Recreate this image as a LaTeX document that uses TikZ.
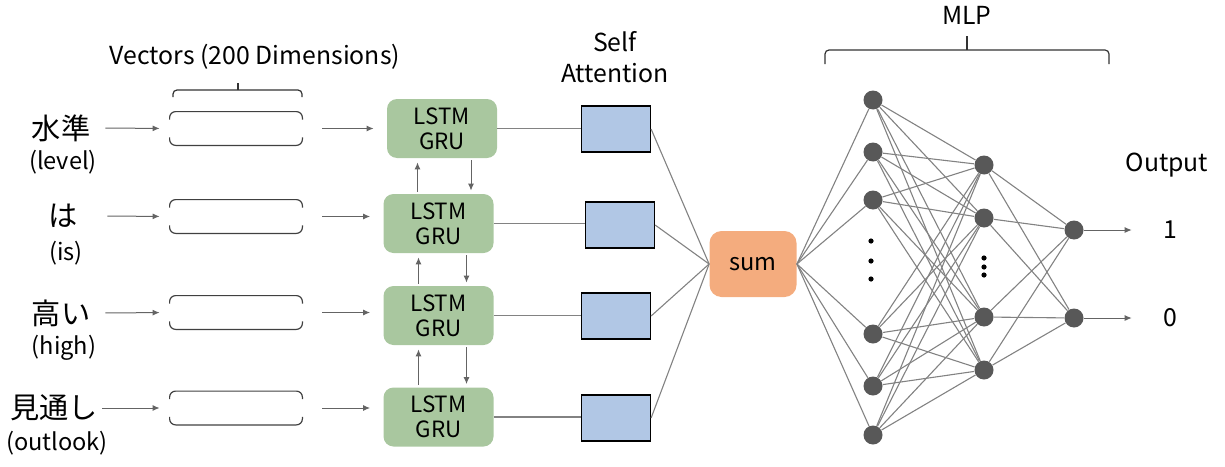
\documentclass[tikz,border=0pt]{standalone}
\usepackage{fontspec}
\setmainfont{Noto Sans CJK JP}
\usepackage{xcolor}
\usetikzlibrary{arrows.meta, positioning, calc}

\definecolor{lstmgreen}{RGB}{169,199,159}
\definecolor{attblue}{RGB}{177,199,229}
\definecolor{sumorange}{RGB}{244,172,126}
\definecolor{neurongray}{RGB}{88,88,88}
\definecolor{wiregray}{RGB}{130,130,130}
\definecolor{arrowgray}{RGB}{100,100,100}

\tikzset{
  wordjp/.style={font=\fontsize{14.6}{16}\selectfont, inner sep=0pt, minimum width=40pt},
  worden/.style={font=\fontsize{11.8}{13}\selectfont, inner sep=0pt},
  vecbox/.style={minimum width=66pt, minimum height=16.5pt, inner sep=0pt},
  vecline/.style={draw=black!75, line width=0.6pt, rounded corners=3pt},
  cell/.style={fill=lstmgreen, rounded corners=5pt, minimum width=55pt, minimum height=29.5pt, inner sep=0pt, align=center, font=\fontsize{11.2}{12.5}\selectfont},
  attbox/.style={draw=black, fill=attblue, minimum width=34.5pt, minimum height=23pt, inner sep=0pt, line width=0.6pt},
  sumbox/.style={fill=sumorange, rounded corners=6pt, minimum width=43.5pt, minimum height=33pt, font=\fontsize{11.8}{13}\selectfont},
  neuron/.style={circle, fill=neurongray, minimum size=9.5pt, inner sep=0pt},
  ndot/.style={circle, fill=black, minimum size=2.6pt, inner sep=0pt},
  wire/.style={draw=wiregray, line width=0.55pt},
  arr/.style={draw=arrowgray, line width=0.5pt, -{Latex[length=3.5pt,width=3pt]}},
  lbl/.style={font=\fontsize{12.4}{15.5}\selectfont, inner sep=0pt, align=center},
  brace/.style={draw=black!80, line width=0.6pt, rounded corners=2pt},
}

\begin{document}
\begin{tikzpicture}[x=0.5pt, y=-0.5pt]
\useasboundingbox (0,0) rectangle (1225,466);

% Cuvinte
\node[wordjp] (jp1) at (61,128) {水準};
\node[worden] (en1) at (63,162) {(level)};
\node[wordjp] (jp2) at (63,216) {は};
\node[worden] (en2) at (66,253) {(is)};
\node[wordjp] (jp3) at (61,313) {高い};
\node[worden] (en3) at (64,348) {(high)};
\node[wordjp] (jp4) at (54,408) {見通し};
\node[worden] (en4) at (57,443) {(outlook)};

% Vectori
\node[lbl] (veclabel) at (255,57) {Vectors (200 Dimensions)};
\draw[brace] (173,97) |- (302,90) -- (302,97);
\draw[brace] (238,90) -- (238,83);
\node[vecbox] (v1) at (236,128.5) {};
\node[vecbox] (v2) at (236,216.5) {};
\node[vecbox] (v3) at (236,312.5) {};
\node[vecbox] (v4) at (236,408) {};
\foreach \i in {1,...,4} {
  \draw[vecline] ($(v\i.north west)+(0,8)$) |- (v\i.north east) -- ($(v\i.north east)+(0,8)$);
  \draw[vecline] ($(v\i.south west)+(0,-8)$) |- (v\i.south east) -- ($(v\i.south east)+(0,-8)$);
}

% LSTM / GRU
\node[cell] (l1) at (442,128.5) {LSTM\\GRU};
\node[cell] (l2) at (438.5,223.5) {LSTM\\GRU};
\node[cell] (l3) at (438.5,315.5) {LSTM\\GRU};
\node[cell] (l4) at (438.5,417) {LSTM\\GRU};

% Self attention
\node[lbl] (attlabel) at (615,57) {Self\\Attention};
\node[attbox] (a1) at (616,129) {};
\node[attbox] (a2) at (620,225) {};
\node[attbox] (a3) at (616,316) {};
\node[attbox] (a4) at (616,418) {};

% Sum
\node[sumbox] (sum) at (753,264) {sum};

% Sageti intrare
\foreach \i in {1,...,4} {
  \draw[arr, shorten <=2pt, shorten >=5pt] (jp\i.east) -- (v\i.west);
  \draw[arr, shorten <=10pt, shorten >=6.5pt] (v\i.east) -- (v\i.east -| l\i.west);
  \draw[wire] (l\i.east) -- (l\i.east -| a\i.west);
  \draw[wire] (a\i.east) -- (sum.west);
}

% Legaturi intre celule
\draw[arr, shorten <=1pt, shorten >=2pt] ([xshift=-10.5pt]l2.north) -- ([xshift=-10.5pt]l2.north |- l1.south);
\draw[arr, shorten <=1pt, shorten >=1.5pt] ([xshift=14.5pt]l1.south) -- ([xshift=14.5pt]l1.south |- l2.north);
\draw[arr, shorten <=1pt, shorten >=2pt] ([xshift=-10pt]l3.north) -- ([xshift=-10pt]l3.north |- l2.south);
\draw[arr, shorten <=1pt, shorten >=1.5pt] ([xshift=14pt]l2.south) -- ([xshift=14pt]l2.south |- l3.north);
\draw[arr, shorten <=1pt, shorten >=2pt] ([xshift=-10pt]l4.north) -- ([xshift=-10pt]l4.north |- l3.south);
\draw[arr, shorten <=1pt, shorten >=1.5pt] ([xshift=14pt]l3.south) -- ([xshift=14pt]l3.south |- l4.north);

% MLP
\node[lbl] (mlplabel) at (967,15) {MLP};
\draw[brace] (825,64) |- (1109,50) -- (1109,64);
\draw[brace] (967,50) -- (967,36);

\foreach \y [count=\i] in {100,152,200,334,386,435}
  \node[neuron] (p\i) at (873,\y) {};
\foreach \y [count=\i] in {165,218,317,370}
  \node[neuron] (q\i) at (984,\y) {};
\node[neuron] (r1) at (1074,230) {};
\node[neuron] (r2) at (1074,318) {};

\foreach \y in {241,261,279}
  \node[ndot] at (871,\y) {};
\foreach \y in {258,267,275}
  \node[ndot] at (984,\y) {};

\foreach \i in {1,...,6} {
  \draw[wire] (sum.east) -- (p\i);
  \foreach \j in {1,...,4}
    \draw[wire] (p\i) -- (q\j);
}
\foreach \j in {1,...,4} {
  \draw[wire] (q\j) -- (r1);
  \draw[wire] (q\j) -- (r2);
}

% Iesire
\node[lbl] (outlabel) at (1167,165) {Output};
\node[lbl] (o1) at (1170,230) {1};
\node[lbl] (o0) at (1170,318) {0};
\draw[arr, shorten >=15.5pt] (r1) -- (o1);
\draw[arr, shorten >=15.5pt] (r2) -- (o0);

\end{tikzpicture}
\end{document}
